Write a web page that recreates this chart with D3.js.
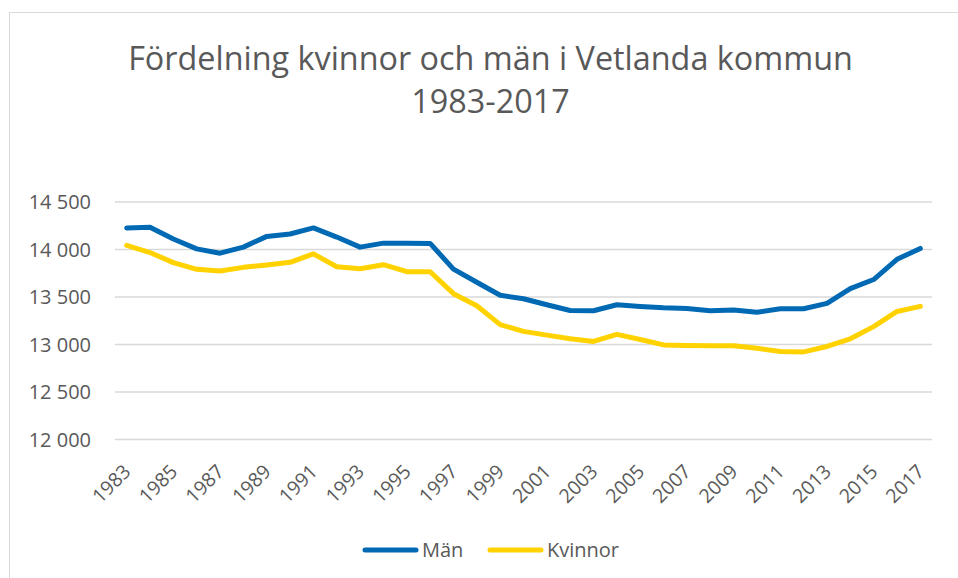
<!DOCTYPE html>
<html><head><meta charset="utf-8">
<script src="https://cdn.jsdelivr.net/npm/d3@7"></script>
<style>body{margin:0;background:#fff}svg{display:block}</style>
</head><body>
<svg id="c" width="958" height="578"></svg>
<script>
const years = d3.range(1983, 2018);
const man = [14227,14234,14110,14007,13961,14025,14138,14163,14227,14131,14025,14067,14067,14064,13794,13655,13518,13482,13418,13358,13355,13418,13401,13387,13379,13355,13362,13340,13376,13376,13433,13589,13684,13897,14011];
const kvinnor = [14043,13968,13862,13791,13773,13812,13837,13865,13954,13819,13798,13840,13766,13766,13535,13408,13209,13138,13099,13060,13032,13106,13053,12996,12989,12986,12986,12961,12926,12922,12979,13060,13188,13348,13401];
const yTicks = [12000,12500,13000,13500,14000,14500];
const seriesNames = ["Män","Kvinnor"];
const colors = ["#0069B4","#FFD200"];
const titleLines = ["Fördelning kvinnor och män i Vetlanda kommun","1983-2017"];

const svg = d3.select("#c");
const font = "'Open Sans', sans-serif";
const textColor = "#595959";

svg.append("rect").attr("x",9.5).attr("y",12.5).attr("width",1000).attr("height",600)
  .attr("fill","#fff").attr("stroke","#D9D9D9").attr("stroke-width",1);

const x = d3.scaleBand().domain(years).range([115,932]).padding(0);
const y = d3.scaleLinear().domain([12000,14500]).range([439.5,202]);
const cx = d => x(d) + x.bandwidth()/2;

// title
const t1 = svg.append("text").attr("x",490.5).attr("y",70).attr("text-anchor","middle")
  .attr("font-family",font).attr("fill",textColor).attr("font-size",30).text(titleLines[0]);
let w = t1.node().getComputedTextLength();
const fs = 30*725/w;
t1.attr("font-size",fs);
svg.append("text").attr("x",490.5).attr("y",113).attr("text-anchor","middle")
  .attr("font-family",font).attr("fill",textColor).attr("font-size",fs).text(titleLines[1]);

// grid
svg.append("g").selectAll("line").data(yTicks).join("line")
  .attr("x1",115).attr("x2",932).attr("y1",d=>y(d)).attr("y2",d=>y(d))
  .attr("stroke","#D9D9D9").attr("stroke-width",1.3);

const fmt = d3.formatLocale({decimal:",",thousands:"\u00a0",grouping:[3],currency:["","kr"]}).format(",d");
svg.append("g").selectAll("text").data(yTicks).join("text")
  .attr("x",91).attr("y",d=>y(d)+7).attr("text-anchor","end")
  .attr("font-family",font).attr("font-size",20).attr("fill",textColor).text(d=>fmt(d));

// x labels
svg.append("g").selectAll("text").data(years.filter((d,i)=>i%2===0)).join("text")
  .attr("transform",d=>`translate(${cx(d)+0.5},${468}) rotate(-45)`)
  .attr("text-anchor","end").attr("dy","0.35em")
  .attr("font-family",font).attr("font-size",19.5).attr("fill",textColor).text(d=>d);

// lines
const line = d3.line().x((d,i)=>cx(years[i])).y(d=>y(d));
[man,kvinnor].forEach((s,k)=>{
  svg.append("path").datum(s).attr("d",line).attr("fill","none")
    .attr("stroke",colors[k]).attr("stroke-width",5)
    .attr("stroke-linejoin","round").attr("stroke-linecap","round");
});

// legend
const leg = [{x1:365,x2:416,tx:422},{x1:490,x2:541,tx:547}];
seriesNames.forEach((n,k)=>{
  svg.append("line").attr("x1",leg[k].x1).attr("x2",leg[k].x2).attr("y1",550).attr("y2",550)
    .attr("stroke",colors[k]).attr("stroke-width",5).attr("stroke-linecap","round");
  svg.append("text").attr("x",leg[k].tx).attr("y",557).attr("font-family",font)
    .attr("font-size",20).attr("fill",textColor).text(n);
});
</script>
</body></html>
